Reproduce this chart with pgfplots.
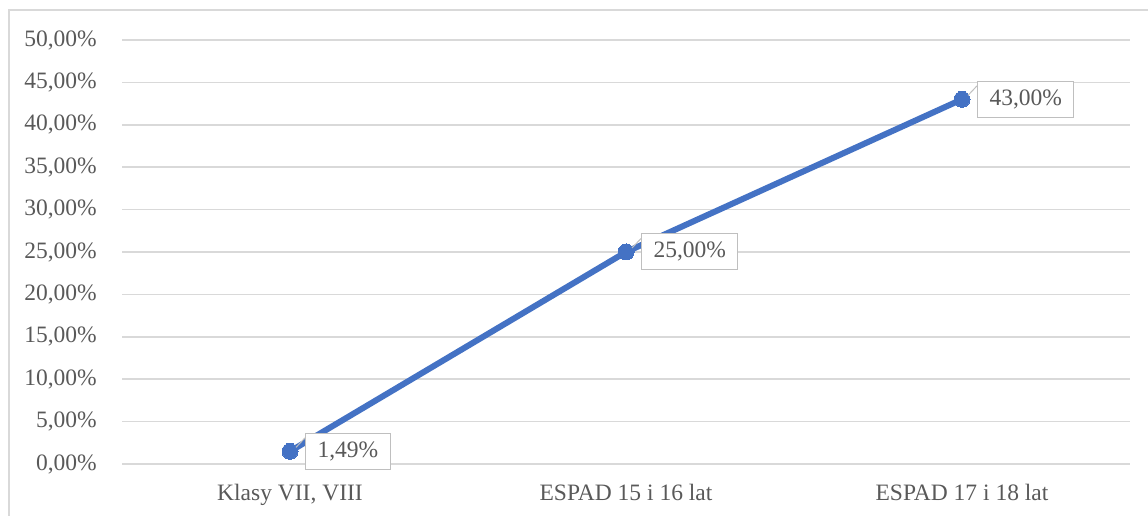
\documentclass[border=0pt]{standalone}
\usepackage{pgfplots}
\pgfplotsset{compat=1.18}
\usepackage{fontspec}
\setmainfont{Liberation Serif}

\definecolor{lineblue}{HTML}{4472C4}
\definecolor{gridgray}{HTML}{D9D9D9}
\definecolor{boxgray}{HTML}{BFBFBF}
\definecolor{txtgray}{HTML}{595959}

\begin{document}
\begin{tikzpicture}
\useasboundingbox (0,0) rectangle (1148pt,516pt);
% chart frame (only left and top edges are visible)
\draw[gridgray, line width=1.5pt] (9pt,0) -- (9pt,506pt) -- (1148pt,506pt);

\begin{axis}[
    at={(122pt,52pt)}, anchor=south west,
    scale only axis,
    width=1008pt, height=424pt,
    xmin=-0.5, xmax=2.5,
    ymin=0, ymax=50,
    ytick={0,5,...,50},
    xtick={0,1,2},
    xticklabels={{Klasy VII, VIII},{ESPAD 15 i 16 lat},{ESPAD 17 i 18 lat}},
    axis line style={draw=none},
    major tick length=0pt,
    ymajorgrids,
    grid style={gridgray, line width=1.5pt},
    font=\fontsize{23.5}{28}\selectfont,
    tick label style={txtgray},
    yticklabel style={anchor=east, inner sep=0pt, xshift=-25pt},
    xticklabel style={anchor=north, inner sep=0pt, yshift=-20pt},
    /pgf/number format/assume math mode=true,
    yticklabel={\pgfmathprintnumber[fixed,fixed zerofill,precision=2,use comma]{\tick}\%},
    clip=false,
    nodes near coords={\pgfmathprintnumber[fixed,fixed zerofill,precision=2,use comma]{\pgfplotspointmeta}\%},
    every node near coord/.style={
        anchor=west, xshift=15pt,
        draw=boxgray, fill=white, line width=1pt,
        text=txtgray, inner xsep=12pt, inner ysep=8pt,
        text height=16pt, text depth=4pt,
        append after command={
            ([yshift=-5pt]\tikzlastnode.north west) edge[draw=boxgray, line width=1pt]
            ([xshift=-9pt,yshift=4pt]\tikzlastnode.west)
        }
    },
]
\addplot[color=lineblue, line width=6pt, mark=*, mark size=8pt,
    mark options={fill=lineblue, draw=lineblue, line width=0pt}]
    coordinates {(0,1.49) (1,25) (2,43)};
\end{axis}
\end{tikzpicture}
\end{document}
